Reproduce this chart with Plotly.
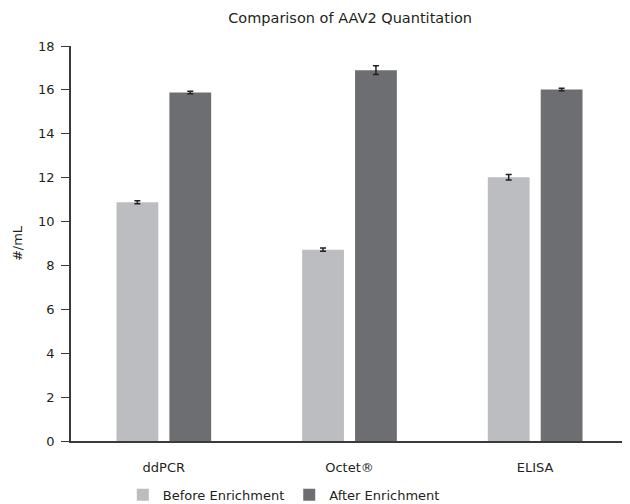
import plotly.graph_objects as go

categories = ["ddPCR", "Octet®", "ELISA"]
before = [10.88, 8.72, 12.02]
before_err = [0.07, 0.07, 0.13]
after = [15.88, 16.9, 16.02]
after_err = [0.06, 0.2, 0.06]

font = "'DejaVu Sans', sans-serif"
fig = go.Figure()
fig.add_trace(go.Bar(
    x=categories, y=before, name="Before Enrichment",
    marker=dict(color="#bcbdc0", line=dict(width=0)),
    error_y=dict(type="data", array=before_err, color="#231f20", thickness=1.5, width=3),
))
fig.add_trace(go.Bar(
    x=categories, y=after, name="After Enrichment",
    marker=dict(color="#6d6e71", line=dict(width=0)),
    error_y=dict(type="data", array=after_err, color="#231f20", thickness=1.5, width=3),
))
fig.update_layout(
    width=630, height=504,
    paper_bgcolor="white", plot_bgcolor="white",
    font=dict(family=font, size=13, color="#231f20"),
    title=dict(text="Comparison of AAV2 Quantitation", x=0.543, xanchor="center", y=0.981, yanchor="middle",
               font=dict(size=14.5, color="#231f20")),
    margin=dict(l=63, r=10, t=38, b=71),
    barmode="group", bargap=0.43, bargroupgap=0.21,
    xaxis=dict(showline=True, linecolor="#3a3a3a", linewidth=1.5, ticks="", showgrid=False,
               tickfont=dict(size=13), ticklabelstandoff=14, automargin=False),
    yaxis=dict(range=[0, 18], dtick=2, showline=True, linecolor="#3a3a3a", linewidth=1.5,
               ticks="outside", ticklen=8, tickcolor="#3a3a3a", showgrid=False, zeroline=False,
               tickfont=dict(size=13), ticklabelstandoff=4, automargin=False,
               title=dict(text="#/mL", font=dict(size=13), standoff=13)),
    legend=dict(orientation="h", x=0.093, xanchor="left", xref="paper",
                y=0.034, yanchor="middle", yref="container",
                font=dict(size=13), itemwidth=30, traceorder="normal"),
    showlegend=True,
)
fig.write_html("out.html")
